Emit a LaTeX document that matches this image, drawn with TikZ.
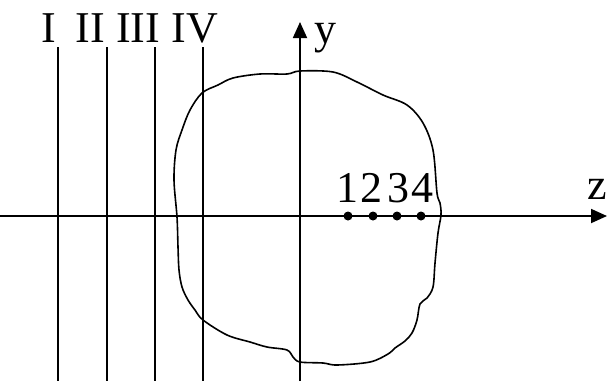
\documentclass[tikz,border=0pt]{standalone}
\usepackage{fontspec}
\setmainfont{Liberation Serif}
\usetikzlibrary{arrows.meta}

\tikzset{
  lbl/.style={inner sep=0pt,anchor=base,font=\fontsize{44}{44}\selectfont},
  dot/.style={circle,fill,inner sep=0pt,minimum size=9pt},
  axis/.style={-{Triangle[length=16pt,width=14pt]}}
}

\begin{document}
\begin{tikzpicture}[x=1pt,y=-1pt,line width=1.8pt]
  \useasboundingbox (0,0) rectangle (607,381);
  % axes
  \coordinate (zl) at (0,216);
  \coordinate (zr) at (607,216);
  \coordinate (yb) at (300,381);
  \coordinate (yt) at (300,22);
  \draw[axis] (zl) -- (zr);
  \draw[axis] (yb) -- (yt);
  \node[lbl] (zlab) at (597,199) {z};
  \node[lbl] (ylab) at (325,43) {y};
  % planes I--IV
  \coordinate (p1t) at (58,47);  \coordinate (p1b) at (58,381);
  \coordinate (p2t) at (107,47); \coordinate (p2b) at (107,381);
  \coordinate (p3t) at (155,47); \coordinate (p3b) at (155,381);
  \coordinate (p4t) at (203,47); \coordinate (p4b) at (203,381);
  \draw (p1t) -- (p1b);
  \draw (p2t) -- (p2b);
  \draw (p3t) -- (p3b);
  \draw (p4t) -- (p4b);
  \node[lbl] (l1) at (49,42) {I};
  \node[lbl] (l2) at (90,42) {II};
  \node[lbl] (l3) at (138,42) {III};
  \node[lbl] (l4) at (195,42) {IV};
  % body
  \draw[line width=1.6pt] plot[smooth cycle,tension=0.55] coordinates {
    (300,71) (333,72) (357,82) (383,95) (407,105) (423,123) (433,150)
    (437,193) (440,203) (441,215) (438,233) (435,263) (433,287) (427,298)
    (420,304) (417,320) (412,333) (405,341) (395,348) (388,354) (370,362)
    (337,365) (323,363) (300,362) (293,357) (287,350) (267,347) (250,342)
    (227,335) (203,320) (195,310) (188,300) (182,287) (179,270) (178,247)
    (177,217) (174,180) (176,150) (182,130) (190,110) (202,93) (218,85)
    (233,78) (260,74) (287,74)};
  % points 1--4
  \node[dot] (d1) at (348,216) {};
  \node[dot] (d2) at (373,216) {};
  \node[dot] (d3) at (397,216) {};
  \node[dot] (d4) at (421,216) {};
  \node[lbl] (n1) at (347,202) {1};
  \node[lbl] (n2) at (371,202) {2};
  \node[lbl] (n3) at (398,202) {3};
  \node[lbl] (n4) at (422,202) {4};
\end{tikzpicture}
\end{document}
